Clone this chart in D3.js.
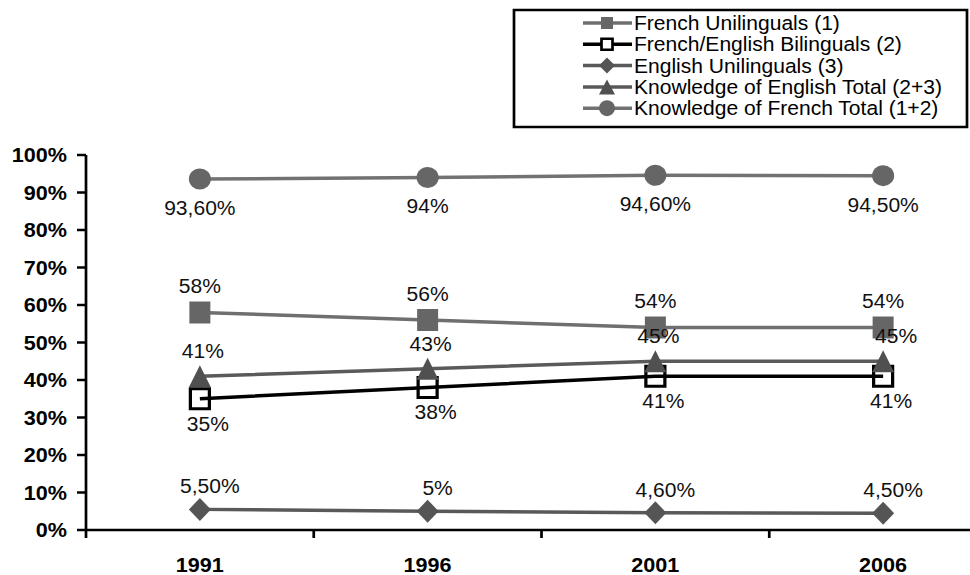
<!DOCTYPE html>
<html>
<head>
<meta charset="UTF-8">
<title>Language knowledge 1991-2006</title>
<script src="https://d3js.org/d3.v7.min.js"></script>
<style>
  body { margin: 0; background: #fff; }
  svg { display: block; font-family: "Liberation Sans", Arial, sans-serif; }
</style>
</head>
<body>
<svg id="chart" width="970" height="575"></svg>
<script>
// chart data
var years = ["1991", "1996", "2001", "2006"];
var frenchUni = [58, 56, 54, 54];
var bilingual = [35, 38, 41, 41];
var englishUni = [5.5, 5, 4.6, 4.5];
var englishTotal = [41, 43, 45, 45];
var frenchTotal = [93.6, 94, 94.6, 94.5];
var frenchUniLabels = ["58%", "56%", "54%", "54%"];
var bilingualLabels = ["35%", "38%", "41%", "41%"];
var englishUniLabels = ["5,50%", "5%", "4,60%", "4,50%"];
var englishTotalLabels = ["41%", "43%", "45%", "45%"];
var frenchTotalLabels = ["93,60%", "94%", "94,60%", "94,50%"];
var yTicks = [0, 10, 20, 30, 40, 50, 60, 70, 80, 90, 100];

// the original picture is a bit stretched sideways
var SX = 1.08;
function px(v) { return v / SX; }

var svg = d3.select("#chart");
var g = svg.append("g").attr("transform", "scale(" + SX + ",1)");

var x = d3.scaleBand().domain(years).range([px(86), px(997)]);
var y = d3.scaleLinear().domain([0, 100]).range([530, 155]);

function cx(i) { return x(years[i]) + x.bandwidth() / 2; }

// marker shapes, w/h in screen pixels
function markerPath(type, w, h) {
  var a = px(w) / 2, b = h / 2;
  if (type == "square") return "M" + (-a) + "," + (-b) + "H" + a + "V" + b + "H" + (-a) + "Z";
  if (type == "diamond") return "M0," + (-b) + "L" + a + ",0L0," + b + "L" + (-a) + ",0Z";
  if (type == "triangle") return "M0," + (-b) + "L" + a + "," + b + "H" + (-a) + "Z";
  // circle as ellipse path so it gets the same stretch as the rest
  return "M" + (-a) + ",0A" + a + "," + b + " 0 1,0 " + a + ",0A" + a + "," + b + " 0 1,0 " + (-a) + ",0Z";
}

var series = [
  { name: "French Unilinguals (1)", values: frenchUni, labels: frenchUniLabels,
    line: "#6f6f6f", marker: "square", fill: "#666", stroke: "none", mw: 21, mh: 22, lw: 12, lh: 12, ldy: -26, ldx: 0 },
  { name: "French/English Bilinguals (2)", values: bilingual, labels: bilingualLabels,
    line: "#000", marker: "square", fill: "#fff", stroke: "#000", mw: 19, mh: 20, lw: 11, lh: 11, ldy: 25, ldx: 8, lineOnTop: true },
  { name: "English Unilinguals (3)", values: englishUni, labels: englishUniLabels,
    line: "#595959", marker: "diamond", fill: "#555", stroke: "none", mw: 22, mh: 23, lw: 16, lh: 16, ldy: -23, ldx: 10 },
  { name: "Knowledge of English Total (2+3)", values: englishTotal, labels: englishTotalLabels,
    line: "#5a5a5a", marker: "triangle", fill: "#505050", stroke: "none", mw: 22, mh: 22, lw: 16, lh: 15, ldy: -25, ldx: 3 },
  { name: "Knowledge of French Total (1+2)", values: frenchTotal, labels: frenchTotalLabels,
    line: "#727272", marker: "circle", fill: "#666", stroke: "none", mw: 22, mh: 21, lw: 16, lh: 16, ldy: 29, ldx: 0 }
];

// y axis
var yAxis = g.append("g").attr("transform", "translate(" + px(86) + ",0)");
yAxis.append("line").attr("y1", y(0)).attr("y2", y(100)).attr("stroke", "#000").attr("stroke-width", 2.5);
yTicks.forEach(function(t) {
  yAxis.append("line").attr("x1", px(-9)).attr("x2", 0).attr("y1", y(t)).attr("y2", y(t))
    .attr("stroke", "#000").attr("stroke-width", 2.5);
  yAxis.append("text").attr("x", px(-19)).attr("y", y(t) + 7.5).attr("text-anchor", "end")
    .attr("font-size", 20).attr("font-weight", "bold").text(t + "%");
});

// x axis
var xAxis = g.append("g");
xAxis.append("line").attr("x1", px(86)).attr("x2", px(997)).attr("y1", y(0)).attr("y2", y(0))
  .attr("stroke", "#000").attr("stroke-width", 2.5);
years.forEach(function(yr, i) {
  xAxis.append("line").attr("x1", x(yr)).attr("x2", x(yr)).attr("y1", y(0)).attr("y2", y(0) + 8)
    .attr("stroke", "#000").attr("stroke-width", 2.5);
  xAxis.append("text").attr("x", cx(i)).attr("y", 572).attr("text-anchor", "middle")
    .attr("font-size", 20).attr("font-weight", "bold").text(yr);
});

var line = d3.line().x(function(d, i) { return cx(i); }).y(function(d) { return y(d); });

series.forEach(function(s) {
  var sg = g.append("g");
  function drawLine() {
    sg.append("path").attr("d", line(s.values)).attr("fill", "none")
      .attr("stroke", s.line).attr("stroke-width", 3.5);
  }
  if (!s.lineOnTop) drawLine();
  s.values.forEach(function(v, i) {
    sg.append("path").attr("d", markerPath(s.marker, s.mw, s.mh))
      .attr("transform", "translate(" + cx(i) + "," + y(v) + ")")
      .attr("fill", s.fill).attr("stroke", s.stroke).attr("stroke-width", 3);
  });
  if (s.lineOnTop) drawLine();
});

// data labels on top
series.forEach(function(s) {
  s.values.forEach(function(v, i) {
    var dx = s.ldx;
    if (s.marker == "triangle" && i == 3) dx = 13;
    g.append("text").attr("x", cx(i) + px(dx)).attr("y", y(v) + s.ldy + 7)
      .attr("text-anchor", "middle").attr("font-size", 19.5).attr("fill", "#111")
      .text(s.labels[i]);
  });
});

// legend
var lg = g.append("g");
lg.append("rect").attr("x", px(514)).attr("y", 10).attr("width", px(453)).attr("height", 117)
  .attr("fill", "#fff").attr("stroke", "#000").attr("stroke-width", 2.5);
series.forEach(function(s, i) {
  var ry = 23 + i * 21.3;
  lg.append("line").attr("x1", px(583)).attr("x2", px(632)).attr("y1", ry).attr("y2", ry)
    .attr("stroke", s.line).attr("stroke-width", 3.5);
  lg.append("path").attr("d", markerPath(s.marker, s.lw, s.lh))
    .attr("transform", "translate(" + px(607) + "," + ry + ")")
    .attr("fill", s.fill).attr("stroke", s.stroke).attr("stroke-width", 2.5);
  lg.append("text").attr("x", px(634)).attr("y", ry + 7).attr("font-size", 19.5).attr("fill", "#000").text(s.name);
});
</script>
</body>
</html>
